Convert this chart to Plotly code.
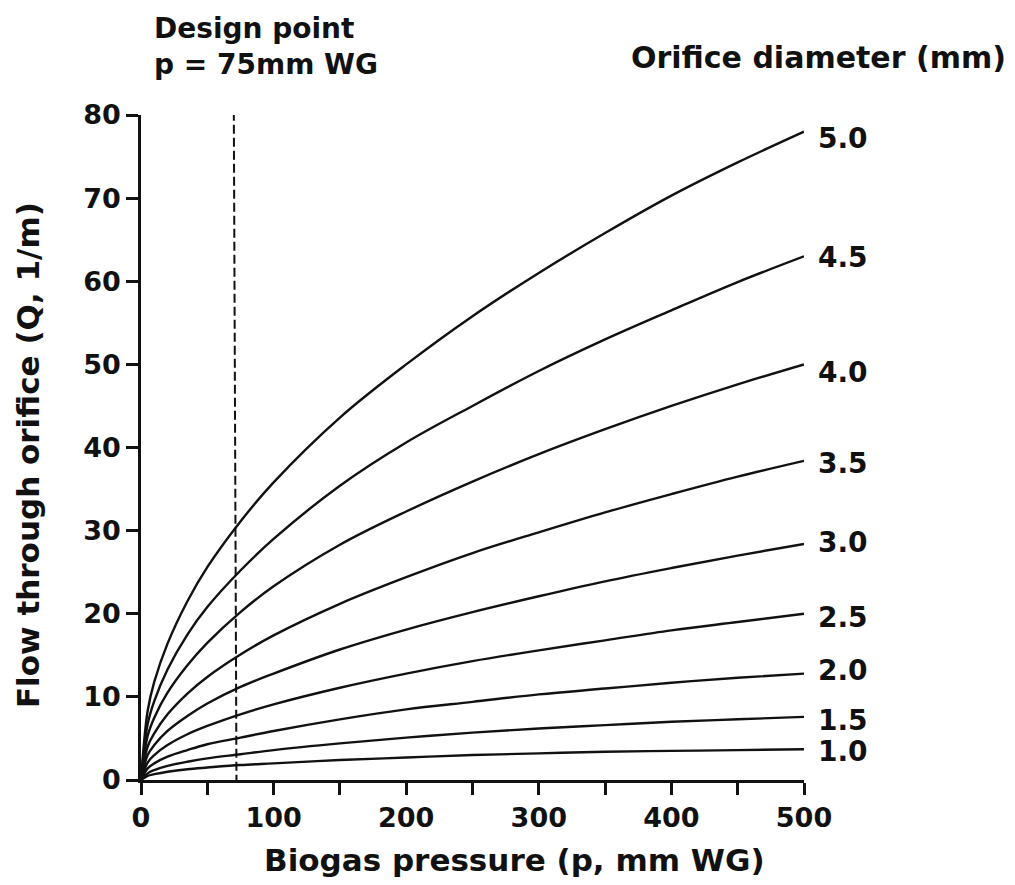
"""
Orifice flow chart: biogas pressure vs flow for several orifice diameters.
"""

import plotly.graph_objects as go

FONT = "DejaVu Sans, Liberation Sans, Arial, sans-serif"
INK = "#111111"

# biogas pressure (mm WG) where the curves were read
pressure = [0, 5, 10, 20, 35, 50, 75, 100, 150, 200, 250, 300, 350, 400, 450, 500]

# orifice diameter (mm) -> flow (l/m) at each pressure above
diameters = ["5.0", "4.5", "4.0", "3.5", "3.0", "2.5", "2.0", "1.5", "1.0"]
flow_50 = [0, 8.3, 11.8, 16.4, 21.5, 25.6, 31.1, 35.8, 43.6, 50.0, 55.8, 61.0, 65.8, 70.3, 74.3, 78.0]
flow_45 = [0, 6.7, 9.5, 13.3, 17.5, 20.8, 25.2, 29.0, 35.4, 40.6, 45.0, 49.2, 53.0, 56.5, 59.9, 63.0]
flow_40 = [0, 5.3, 7.5, 10.5, 13.8, 16.5, 20.2, 23.3, 28.3, 32.3, 35.9, 39.2, 42.2, 45.0, 47.6, 50.0]
flow_35 = [0, 4.0, 5.6, 7.9, 10.4, 12.4, 15.1, 17.4, 21.2, 24.4, 27.3, 29.8, 32.2, 34.4, 36.5, 38.4]
flow_30 = [0, 3.0, 4.2, 5.9, 7.7, 9.2, 11.2, 12.8, 15.7, 18.1, 20.2, 22.1, 23.9, 25.5, 27.0, 28.4]
flow_25 = [0, 2.1, 3.0, 4.2, 5.5, 6.5, 7.9, 9.1, 11.1, 12.8, 14.3, 15.6, 16.8, 18.0, 19.0, 20.0]
flow_20 = [0, 1.4, 2.0, 2.8, 3.6, 4.3, 5.1, 5.9, 7.3, 8.5, 9.4, 10.3, 11.0, 11.7, 12.3, 12.8]
flow_15 = [0, 0.8, 1.2, 1.7, 2.2, 2.6, 3.1, 3.6, 4.4, 5.1, 5.7, 6.2, 6.6, 7.0, 7.3, 7.6]
flow_10 = [0, 0.5, 0.7, 1.0, 1.3, 1.5, 1.8, 2.0, 2.4, 2.7, 3.0, 3.2, 3.4, 3.5, 3.6, 3.7]
flows = [flow_50, flow_45, flow_40, flow_35, flow_30, flow_25, flow_20, flow_15, flow_10]

# where the diameter labels sit on the right (flow units)
label_y = [77.2, 62.8, 49.0, 38.1, 28.6, 19.6, 13.2, 7.2, 3.4]

# design point guide (drawn slightly skewed, as in the scan)
design_p = [70, 72]
design_q = [80.4, 0]

x_ticks = [0, 50, 100, 150, 200, 250, 300, 350, 400, 450, 500]
x_ticktext = ["0", "", "100", "", "200", "", "300", "", "400", "", "500"]
y_ticks = [0, 10, 20, 30, 40, 50, 60, 70, 80]

fig = go.Figure()

for name, q in zip(diameters, flows):
    fig.add_trace(go.Scatter(
        x=pressure, y=q, name=name, mode="lines",
        line=dict(color=INK, width=2.4, shape="spline", smoothing=1.0),
        hovertemplate=name + " mm: %{y:.1f} l/m<extra></extra>",
    ))

fig.add_trace(go.Scatter(
    x=design_p, y=design_q, mode="lines", name="Design point",
    line=dict(color=INK, width=2, dash="9px,4px"), hoverinfo="skip",
))

title_font = dict(family=FONT, size=28, color=INK, weight="bold")
header_font = dict(family=FONT, size=30, color=INK, weight="bold")
axis_title_font = dict(family=FONT, size=31, color=INK, weight="bold")
tick_font = dict(family=FONT, size=27, color=INK, weight="bold")
label_font = dict(family=FONT, size=28, color=INK, weight="bold")

annotations = []
for name, ly in zip(diameters, label_y):
    annotations.append(dict(
        x=500, y=ly, xref="x", yref="y", text=name, showarrow=False,
        xanchor="left", yanchor="middle", xshift=12, font=label_font,
    ))

annotations += [
    dict(x=0.017, y=1.158, xref="paper", yref="paper", text="Design point<br>p = 75mm WG",
         showarrow=False, align="left", xanchor="left", yanchor="top", font=title_font),
    dict(x=1.308, y=1.087, xref="paper", yref="paper", text="Orifice diameter (mm)", showarrow=False,
         xanchor="right", yanchor="middle", font=header_font),
    dict(x=0.564, y=-0.12, xref="paper", yref="paper", text="Biogas pressure (p, mm WG)", showarrow=False,
         xanchor="center", yanchor="middle", font=axis_title_font),
    dict(x=-0.170, y=0.489, xref="paper", yref="paper", text="Flow through orifice (Q, 1/m)", showarrow=False,
         xanchor="center", yanchor="middle", textangle=-90, font=axis_title_font),
]

# page body adds an 8px offset, so margins are trimmed by that much
fig.update_layout(
    width=999, height=869,
    paper_bgcolor="white", plot_bgcolor="white",
    margin=dict(l=133, r=203, t=107, b=97),
    showlegend=False,
    font=dict(family=FONT, color=INK),
    annotations=annotations,
    xaxis=dict(
        range=[0, 500], tickvals=x_ticks, ticktext=x_ticktext,
        showgrid=False, zeroline=False, showline=True, linecolor=INK, linewidth=2.5,
        ticks="outside", ticklen=12, tickwidth=2.5, tickcolor=INK,
        tickfont=tick_font,
    ),
    yaxis=dict(
        range=[0, 80], tickvals=y_ticks,
        showgrid=False, zeroline=False, showline=True, linecolor=INK, linewidth=2.5,
        ticks="outside", ticklen=12, tickwidth=2.5, tickcolor=INK,
        tickfont=tick_font,
    ),
)

fig.write_html("out.html")
